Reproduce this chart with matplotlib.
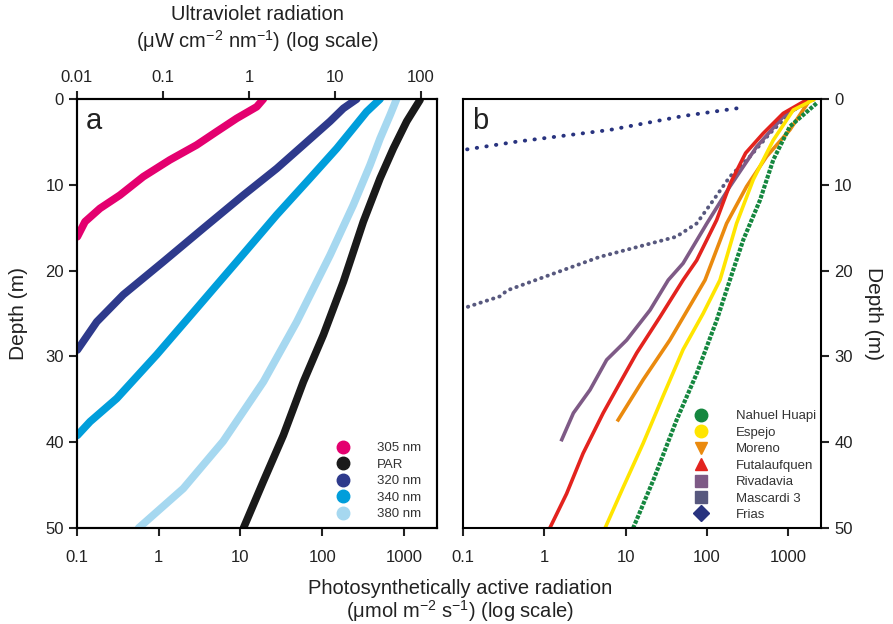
import matplotlib
matplotlib.use('Agg')
import matplotlib.pyplot as plt
from matplotlib.lines import Line2D

plt.rcParams['font.family'] = ['Liberation Sans', 'DejaVu Sans']
plt.rcParams['mathtext.fontset'] = 'custom'
plt.rcParams['mathtext.rm'] = 'Liberation Sans'
plt.rcParams['mathtext.it'] = 'Liberation Sans:italic'

# panel a - UV (top axis, uW cm-2 nm-1) and PAR (bottom axis, umol m-2 s-1)
d305 = [0, 0.9, 2.25, 3.8, 5.36, 7.1, 9.05, 11.2, 12.75, 14.3, 16.05]
uv305 = [1.47, 1.23, 0.72, 0.42, 0.246, 0.12, 0.059, 0.0316, 0.0185, 0.0124, 0.0101]

d320 = [0, 1.09, 2.6, 5.36, 8.1, 11.2, 15.07, 18.96, 22.8, 25.96, 29.25]
uv320 = [17.9, 12.5, 8.75, 4.28, 2.1, 0.86, 0.294, 0.101, 0.0346, 0.017, 0.0101]

d340 = [0, 1.48, 3.4, 5.75, 9.25, 13.5, 18.96, 24.4, 29.8, 34.9, 37.6, 39.2]
uv340 = [33.4, 23.3, 16.3, 10.5, 5.1, 2.1, 0.72, 0.246, 0.0845, 0.029, 0.0142, 0.0101]

d380 = [0, 1.86, 4.6, 7.7, 12.35, 18.2, 25.96, 32.95, 39.9, 45.4, 50]
uv380 = [52, 43.7, 33.4, 25.5, 16.3, 8.75, 3.59, 1.47, 0.50, 0.172, 0.052]

d_par = [0.1, 2.6, 5.75, 9.25, 14.3, 21.3, 27.5, 32.95, 39.2, 44.6, 50]
par = [1578, 1084, 744, 511, 319, 182, 103.5, 59, 33.5, 19, 10.9]

# panel b - PAR profiles in the lakes
d_nahuel = [0.5, 3.2, 7.1, 11.8, 16.4, 21.1, 25.8, 32.0, 37.4, 44.4, 50]
nahuel = [2240, 1050, 656, 450, 281, 192, 132, 75, 42.5, 22, 12.4]

d_espejo = [0.1, 1.28, 4.8, 9.4, 14.5, 21.1, 25.0, 29.2, 34.6, 40.1, 45.2, 50]
espejo = [2040, 1156, 656, 372, 232, 145, 90, 51, 29, 16.5, 9.4, 5.6]

d_moreno = [0.1, 3.6, 6.7, 10.2, 14.5, 21.1, 28.1, 32.7, 37.4]
moreno = [1850, 1050, 543, 308, 175, 95, 35, 16.5, 8.1]

d_futa = [0.1, 1.67, 4.0, 6.3, 9.8, 14.1, 18.8, 21.1, 25.4, 29.6, 33.1, 36.6, 41.3, 46, 50]
futa = [1690, 870, 494, 300, 195, 132, 75, 51, 26.5, 13.7, 8.5, 5.3, 3.0, 1.88, 1.17]

d_riva = [0.1, 2.06, 5.56, 10.2, 14.5, 19.15, 21.1, 24.6, 28.1, 30.4, 33.9, 36.6, 39.7]
riva = [1850, 870, 410, 192, 100, 51, 33.5, 20, 10.3, 5.85, 3.65, 2.28, 1.64]

d_masc = [0.1, 1.28, 4.0, 6.7, 9.05, 11.8, 14.5, 16.05, 18.4, 22.3, 23.0, 24.4]
masc = [2040, 1156, 597, 339, 192, 120, 75, 42, 4.8, 0.35, 0.285, 0.1]

d_frias = [1.09, 1.98, 3.6, 4.97, 5.94]
frias = [232, 51, 6.4, 0.457, 0.1]

fig = plt.figure(figsize=(8.93, 6.24), dpi=100)
ax_a = fig.add_axes([0.0862, 0.1538, 0.4031, 0.6875])
ax_b = fig.add_axes([0.5185, 0.1538, 0.4009, 0.6875])
ax_top = ax_a.twiny()

tick_kw = dict(direction='out', length=6, width=1.5, labelsize=12, colors='#222222')
thick = dict(lw=5.5, solid_capstyle='round', solid_joinstyle='round')

# ---- panel a
ax_a.plot(par, d_par, color='#1a1a1a', **thick)
ax_top.plot(uv380, d380, color='#a6d8f0', **thick)
ax_top.plot(uv340, d340, color='#009edb', **thick)
ax_top.plot(uv320, d320, color='#2e3a8c', **thick)
ax_top.plot(uv305, d305, color='#e4006f', **thick)

for ax in (ax_a, ax_b):
    ax.set_xscale('log')
    ax.set_xlim(0.1, 2540)
    ax.set_ylim(50, 0)
    ax.set_xticks([0.1, 1, 10, 100, 1000])
    ax.set_xticklabels(['0.1', '1', '10', '100', '1000'])
    ax.minorticks_off()
    ax.set_yticks([0, 10, 20, 30, 40, 50])
    for s in ax.spines.values():
        s.set_linewidth(1.5)
    ax.tick_params(**tick_kw)
    ax.tick_params(axis='x', pad=10)

ax_top.set_xscale('log')
ax_top.set_xlim(0.01, 153)
ax_top.set_xticks([0.01, 0.1, 1, 10, 100])
ax_top.set_xticklabels(['0.01', '0.1', '1', '10', '100'])
ax_top.minorticks_off()
ax_top.tick_params(**tick_kw)
ax_top.tick_params(axis='x', pad=4)
for s in ax_top.spines.values():
    s.set_linewidth(1.5)
ax_top.set_xlabel('Ultraviolet radiation\n(μW cm$^{\\mathregular{-2}}$ nm$^{\\mathregular{-1}}$) (log scale)',
                  fontsize=14.5, labelpad=16, color='#222222', linespacing=1.2)

ax_a.set_ylabel('Depth (m)', fontsize=15, labelpad=12, color='#222222')
ax_a.text(0.025, 0.93, 'a', transform=ax_a.transAxes, fontsize=21, va='baseline', color='#222222')

leg_a = [Line2D([], [], ls='', marker='o', ms=9, color=c, label=l) for c, l in
         [('#e4006f', '305 nm'), ('#1a1a1a', 'PAR'), ('#2e3a8c', '320 nm'),
          ('#009edb', '340 nm'), ('#a6d8f0', '380 nm')]]
ax_top.legend(handles=leg_a, loc='upper left', bbox_to_anchor=(0.72, 0.2), frameon=False,
              fontsize=9.5, handlelength=1.0, handletextpad=2.1, labelspacing=0.32,
              borderpad=0, borderaxespad=0, labelcolor='#333333')

# ---- panel b
ax_b.plot(frias, d_frias, color='#28337f', lw=2.8, ls=(0, (0.1, 2.4)), dash_capstyle='round')
ax_b.plot(masc, d_masc, color='#57587e', lw=2.8, ls=(0, (0.1, 1.6)), dash_capstyle='round')
ax_b.plot(riva, d_riva, color='#7e5a86', lw=2.6)
ax_b.plot(futa, d_futa, color='#e3231e', lw=2.6)
ax_b.plot(moreno, d_moreno, color='#ea8a0e', lw=2.6)
ax_b.plot(espejo, d_espejo, color='#ffe500', lw=2.6)
ax_b.plot(nahuel, d_nahuel, color='#15873f', lw=3, ls=(0, (0.9, 0.35)))

ax_b.yaxis.tick_right()
ax_b.yaxis.set_label_position('right')
ax_b.set_ylabel('Depth (m)', fontsize=15, rotation=270, labelpad=22, color='#222222')
ax_b.text(0.025, 0.93, 'b', transform=ax_b.transAxes, fontsize=21, va='baseline', color='#222222')

leg_b = [Line2D([], [], ls='', marker=m, ms=ms, color=c, label=l) for m, ms, c, l in
         [('o', 9, '#15873f', 'Nahuel Huapi'), ('o', 9, '#ffe500', 'Espejo'),
          ('v', 9, '#ea8a0e', 'Moreno'), ('^', 9, '#e3231e', 'Futalaufquen'),
          ('s', 8, '#7e5a86', 'Rivadavia'), ('s', 8, '#57587e', 'Mascardi 3'),
          ('D', 8, '#28337f', 'Frias')]]
ax_b.legend(handles=leg_b, loc='upper left', bbox_to_anchor=(0.647, 0.275), frameon=False,
            fontsize=9.5, handlelength=1.0, handletextpad=2.1, labelspacing=0.32,
            borderpad=0, borderaxespad=0, labelcolor='#333333')

fig.text(0.515, 0.036, 'Photosynthetically active radiation\n(μmol m$^{\\mathregular{-2}}$ s$^{\\mathregular{-1}}$) (log scale)',
         ha='center', va='center', fontsize=14.5, color='#222222', linespacing=1.05)

fig.savefig('out.png', dpi=100)
